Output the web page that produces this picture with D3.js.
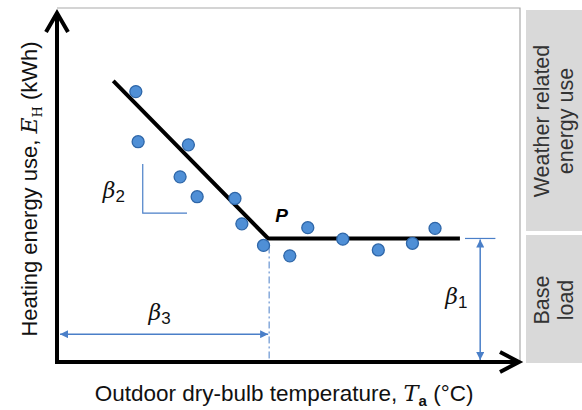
<!DOCTYPE html>
<html>
<head>
<meta charset="utf-8">
<script src="https://cdn.jsdelivr.net/npm/d3@7"></script>
<style>
body { margin: 0; background: #fff; }
svg { display: block; }
</style>
</head>
<body>
<div id="chart"></div>
<script>
// observed points (temperature, energy) in arbitrary units 0..100
var tempVals = [17.1, 17.6, 28.5, 26.7, 30.4, 38.6, 40.1, 44.8, 50.5, 54.4, 62.0, 69.7, 77.1, 82.0];
var energyVals = [77.7, 63.3, 62.4, 53.2, 47.5, 47.0, 39.7, 33.5, 30.5, 38.6, 35.3, 32.2, 34.1, 38.4];
// fitted change-point model
var fitX = [12.2, 45.8, 87.4];
var fitY = [80.8, 35.5, 35.5];
// annotation values
var beta3Level = 8;
var beta1At = 91.8;
var slopeBox = [18.6, 56.9, 28.2, 42.8]; // x0, y-top, x1, y-bottom
var boxLabels = [["Weather related", "energy use"], ["Base", "load"]];

var W = 582, H = 410;
var svg = d3.select("#chart").append("svg").attr("width", W).attr("height", H)
  .style("font-family", "'Liberation Sans', Arial, sans-serif");

var x = d3.scaleLinear().domain([0, 100]).range([57, 518]);
var y = d3.scaleLinear().domain([0, 100]).range([362, 14]);
var blue = "#4a7fc8";

// thin grey frame
svg.append("path").attr("d", "M" + x(0) + ",8H520V" + y(0))
  .attr("fill", "none").attr("stroke", "#aaa").attr("stroke-width", 1.2);

// grey side boxes
svg.append("rect").attr("x", 526).attr("y", 10).attr("width", 56).attr("height", 221).attr("fill", "#d9d9d9");
svg.append("rect").attr("x", 526).attr("y", 235).attr("width", 56).attr("height", 128).attr("fill", "#d9d9d9");
[[553, 121], [553, 300]].forEach(function(c, k) {
  var t = svg.append("text").attr("transform", "translate(" + c[0] + "," + c[1] + ") rotate(-90)")
    .attr("text-anchor", "middle").attr("font-size", 21.5).attr("fill", "#333");
  t.append("tspan").attr("x", 0).attr("y", -4).text(boxLabels[k][0]);
  t.append("tspan").attr("x", 0).attr("y", 20).text(boxLabels[k][1]);
});

// beta3 dash-dot guide
svg.append("line").attr("x1", x(fitX[1]) + 1).attr("x2", x(fitX[1]) + 1)
  .attr("y1", y(fitY[1]) + 8).attr("y2", y(0))
  .attr("stroke", blue).attr("stroke-width", 1).attr("stroke-dasharray", "7,3,2,3");

// arrow markers
var defs = svg.append("defs");
defs.append("marker").attr("id", "ba").attr("viewBox", "0 0 10 10").attr("refX", 10).attr("refY", 5)
  .attr("markerWidth", 12).attr("markerHeight", 8).attr("markerUnits", "userSpaceOnUse")
  .attr("orient", "auto-start-reverse")
  .append("path").attr("d", "M0,0L10,5L0,10z").attr("fill", blue);

svg.append("line").attr("x1", x(0) + 3).attr("x2", x(fitX[1]))
  .attr("y1", y(beta3Level)).attr("y2", y(beta3Level))
  .attr("stroke", blue).attr("stroke-width", 1.5)
  .attr("marker-start", "url(#ba)").attr("marker-end", "url(#ba)");

svg.append("line").attr("x1", x(beta1At)).attr("x2", x(beta1At))
  .attr("y1", y(fitY[1]) + 1).attr("y2", y(0) - 2)
  .attr("stroke", blue).attr("stroke-width", 1.5)
  .attr("marker-start", "url(#ba)").attr("marker-end", "url(#ba)");
svg.append("line").attr("x1", x(beta1At - 3.3)).attr("x2", x(beta1At + 3.3))
  .attr("y1", y(fitY[1])).attr("y2", y(fitY[1]))
  .attr("stroke", blue).attr("stroke-width", 1.2);

// slope bracket
svg.append("path")
  .attr("d", "M" + x(slopeBox[0]) + "," + y(slopeBox[1]) + "V" + y(slopeBox[3]) + "H" + x(slopeBox[2]))
  .attr("fill", "none").attr("stroke", blue).attr("stroke-width", 1.2);

// axes with open chevron heads
svg.append("path").attr("d", "M" + x(0) + "," + (y(0) + 2) + "V" + (y(100) - 1))
  .attr("stroke", "#000").attr("stroke-width", 4).attr("fill", "none");
svg.append("path").attr("d", "M" + (x(0) - 2) + "," + y(0) + "H" + x(100))
  .attr("stroke", "#000").attr("stroke-width", 4).attr("fill", "none");
svg.append("path").attr("d", "M" + (x(0) - 11) + "," + (y(100) + 18) + "L" + x(0) + "," + (y(100) - 1) + "L" + (x(0) + 11) + "," + (y(100) + 18))
  .attr("stroke", "#000").attr("stroke-width", 4).attr("fill", "none").attr("stroke-linejoin", "miter");
svg.append("path").attr("d", "M" + (x(100) - 18) + "," + (y(0) - 10) + "L" + (x(100) + 1) + "," + y(0) + "L" + (x(100) - 18) + "," + (y(0) + 10))
  .attr("stroke", "#000").attr("stroke-width", 4).attr("fill", "none").attr("stroke-linejoin", "miter");

// fitted line
var line = d3.line().x(function(d) { return x(d[0]); }).y(function(d) { return y(d[1]); });
svg.append("path").datum(d3.zip(fitX, fitY)).attr("d", line)
  .attr("fill", "none").attr("stroke", "#000").attr("stroke-width", 4);

// points
svg.selectAll("circle.pt").data(d3.zip(tempVals, energyVals)).enter().append("circle")
  .attr("class", "pt")
  .attr("cx", function(d) { return x(d[0]); })
  .attr("cy", function(d) { return y(d[1]); })
  .attr("r", 6)
  .attr("fill", "#4f8fd6").attr("stroke", "#2e66a8").attr("stroke-width", 1.3);

// labels
var serif = "'DejaVu Serif', 'Liberation Serif', serif";
function beta(px, py, sub) {
  var t = svg.append("text").attr("x", px).attr("y", py).attr("font-size", 22).attr("fill", "#111");
  t.append("tspan").attr("font-family", serif).attr("font-style", "italic").text("\u03b2");
  t.append("tspan").attr("font-size", 17).attr("dy", 4).text(sub);
}
beta(x(slopeBox[0]) - 40, y(slopeBox[1]) + 34, "2");
beta(x(fitX[1] / 2) - 14, y(beta3Level) - 14, "3");
beta(x(beta1At) - 35, y(fitY[1] / 2) + 4, "1");

svg.append("text").attr("x", x(fitX[1]) + 7).attr("y", y(fitY[1]) - 16)
  .attr("font-size", 19).attr("font-weight", "bold").attr("font-style", "italic").text("P");

var xt = svg.append("text").attr("x", 284).attr("y", 401).attr("text-anchor", "middle")
  .attr("font-size", 22.5).attr("fill", "#111");
xt.append("tspan").text("Outdoor dry-bulb temperature, ");
xt.append("tspan").attr("font-family", serif).attr("font-style", "italic").text("T");
xt.append("tspan").attr("font-size", 15).attr("font-weight", "bold").attr("dy", 5).text("a");
xt.append("tspan").attr("dy", -5).text(" (\u00b0C)");

var yt = svg.append("text").attr("transform", "translate(37,189) rotate(-90)").attr("text-anchor", "middle")
  .attr("font-size", 22).attr("fill", "#111");
yt.append("tspan").text("Heating energy use, ");
yt.append("tspan").attr("font-family", serif).attr("font-style", "italic").text("E");
yt.append("tspan").attr("font-family", serif).attr("font-size", 13).attr("dy", 5).text("H");
yt.append("tspan").attr("dy", -5).text(" (kWh)");
</script>
</body>
</html>
